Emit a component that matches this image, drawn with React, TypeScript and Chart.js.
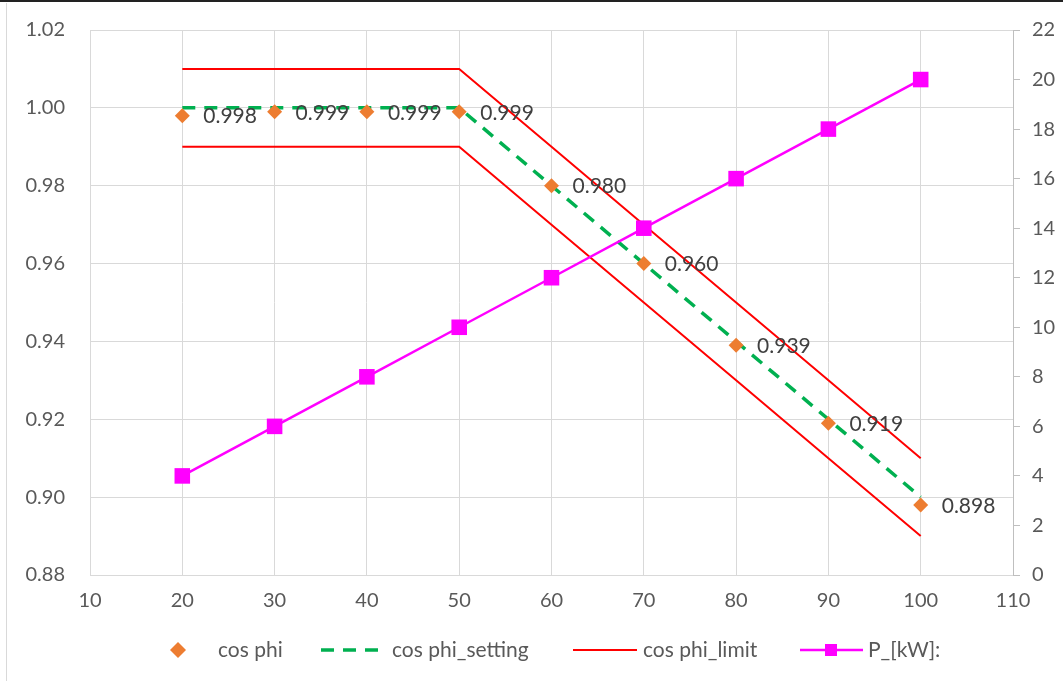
import React, { useEffect, useRef } from "react";
import { Chart, registerables } from "chart.js";

Chart.register(...registerables);

const xValues = [20, 30, 40, 50, 60, 70, 80, 90, 100];
const cosPhi = [0.998, 0.999, 0.999, 0.999, 0.98, 0.96, 0.939, 0.919, 0.898];
const cosPhiSetting = [1.0, 1.0, 1.0, 1.0, 0.98, 0.96, 0.94, 0.92, 0.9];
const cosPhiLimitUpper = [1.01, 1.01, 1.01, 1.01, 0.99, 0.97, 0.95, 0.93, 0.91];
const cosPhiLimitLower = [0.99, 0.99, 0.99, 0.99, 0.97, 0.95, 0.93, 0.91, 0.89];
const powerKW = [4, 6, 8, 10, 12, 14, 16, 18, 20];

const xAxisRange = { min: 10, max: 110, step: 10 };
const leftAxisRange = { min: 0.88, max: 1.02, step: 0.02 };
const rightAxisRange = { min: 0, max: 22, step: 2 };

const legendNames = ["cos phi", "cos phi_setting", "cos phi_limit", "P_[kW]:"];

const FONT = "Lato, 'Open Sans', sans-serif";
const ORANGE = "#ED7D31";
const GREEN = "#00B050";
const RED = "#FF0000";
const MAGENTA = "#FF00FF";
const GRID = "#D9D9D9";
const TEXT = "#595959";

const pts = (ys: number[]) => xValues.map((x, i) => ({ x, y: ys[i] }));

const dataLabelPlugin = {
  id: "dataLabels",
  afterDatasetsDraw(chart: any) {
    const meta = chart.getDatasetMeta(0);
    const ctx = chart.ctx;
    ctx.save();
    ctx.font = `21px ${FONT}`;
    ctx.fillStyle = "#404040";
    ctx.textBaseline = "middle";
    ctx.textAlign = "left";
    meta.data.forEach((el: any, i: number) => {
      ctx.fillText(cosPhi[i].toFixed(3), el.x + 21, el.y + 1);
    });
    ctx.restore();
  },
};

const legendPlugin = {
  id: "customLegend",
  afterDraw(chart: any) {
    const ctx = chart.ctx;
    const y = 650;
    ctx.save();
    ctx.font = `21px ${FONT}`;
    ctx.fillStyle = TEXT;
    ctx.textBaseline = "middle";
    ctx.textAlign = "left";
    // diamond
    ctx.fillStyle = ORANGE;
    ctx.beginPath();
    ctx.moveTo(178, y - 8);
    ctx.lineTo(186, y);
    ctx.lineTo(178, y + 8);
    ctx.lineTo(170, y);
    ctx.closePath();
    ctx.fill();
    ctx.fillStyle = TEXT;
    ctx.fillText(legendNames[0], 218, y);
    // dashed green
    ctx.strokeStyle = GREEN;
    ctx.lineWidth = 3.5;
    ctx.setLineDash([13, 9]);
    ctx.beginPath();
    ctx.moveTo(321, y);
    ctx.lineTo(387, y);
    ctx.stroke();
    ctx.setLineDash([]);
    ctx.fillText(legendNames[1], 392, y);
    // red
    ctx.strokeStyle = RED;
    ctx.lineWidth = 2;
    ctx.beginPath();
    ctx.moveTo(573, y);
    ctx.lineTo(637, y);
    ctx.stroke();
    ctx.fillText(legendNames[2], 643, y);
    // magenta
    ctx.strokeStyle = MAGENTA;
    ctx.lineWidth = 2.5;
    ctx.beginPath();
    ctx.moveTo(800, y);
    ctx.lineTo(863, y);
    ctx.stroke();
    ctx.fillStyle = MAGENTA;
    ctx.fillRect(831 - 6, y - 6, 12, 12);
    ctx.fillStyle = TEXT;
    ctx.fillText(legendNames[3], 868, y);
    ctx.restore();
  },
};

export default function App() {
  const ref = useRef<HTMLCanvasElement | null>(null);
  useEffect(() => {
    document.body.style.margin = "0";
    if (!ref.current) return;
    const chart = new Chart(ref.current, {
      type: "line",
      data: {
        datasets: [
          {
            label: legendNames[0],
            data: pts(cosPhi),
            yAxisID: "y",
            showLine: false,
            pointStyle: "rectRot",
            pointRadius: 7.5,
            pointBackgroundColor: ORANGE,
            pointBorderColor: ORANGE,
            pointBorderWidth: 0,
            borderColor: ORANGE,
            backgroundColor: ORANGE,
            order: 0,
          },
          {
            label: legendNames[1],
            data: pts(cosPhiSetting),
            yAxisID: "y",
            borderColor: GREEN,
            borderWidth: 3.5,
            borderDash: [13, 9],
            pointRadius: 0,
            tension: 0,
            order: 2,
          },
          {
            label: legendNames[2],
            data: pts(cosPhiLimitUpper),
            yAxisID: "y",
            borderColor: RED,
            borderWidth: 2,
            pointRadius: 0,
            order: 3,
          },
          {
            label: legendNames[2] + " (lower)",
            data: pts(cosPhiLimitLower),
            yAxisID: "y",
            borderColor: RED,
            borderWidth: 2,
            pointRadius: 0,
            order: 3,
          },
          {
            label: legendNames[3],
            data: pts(powerKW),
            yAxisID: "y1",
            borderColor: MAGENTA,
            borderWidth: 2.5,
            pointStyle: "rect",
            pointRadius: 11,
            pointBackgroundColor: MAGENTA,
            pointBorderColor: MAGENTA,
            pointBorderWidth: 0,
            order: 1,
          },
        ],
      },
      options: {
        responsive: false,
        animation: false,
        layout: { padding: { top: 30, left: 0, right: 0, bottom: 0 } },
        plugins: {
          legend: { display: false },
          tooltip: { enabled: false },
        },
        scales: {
          x: {
            type: "linear",
            min: xAxisRange.min,
            max: xAxisRange.max,
            ticks: {
              stepSize: xAxisRange.step,
              color: TEXT,
              font: { family: FONT, size: 20 },
              padding: 14,
              maxRotation: 0,
            },
            grid: { color: GRID, drawTicks: false, lineWidth: 1 },
            border: { display: true, color: GRID },
            afterFit(scale: any) {
              scale.height = 106;
              scale.paddingLeft = 0;
              scale.paddingRight = 0;
            },
          },
          y: {
            type: "linear",
            position: "left",
            min: leftAxisRange.min,
            max: leftAxisRange.max,
            ticks: {
              stepSize: leftAxisRange.step,
              color: TEXT,
              font: { family: FONT, size: 20 },
              padding: 25,
              callback: (v: any) => Number(v).toFixed(2),
            },
            grid: { color: GRID, drawTicks: false },
            border: { display: true, color: GRID },
            afterFit(scale: any) {
              scale.width = 90;
              scale.paddingTop = 0;
              scale.paddingBottom = 0;
            },
          },
          y1: {
            type: "linear",
            position: "right",
            min: rightAxisRange.min,
            max: rightAxisRange.max,
            ticks: {
              stepSize: rightAxisRange.step,
              color: TEXT,
              font: { family: FONT, size: 20 },
              padding: 12,
            },
            grid: { color: "#BFBFBF", drawOnChartArea: false, drawTicks: true, tickLength: 7 },
            border: { display: true, color: "#BFBFBF" },
            afterFit(scale: any) {
              scale.width = 50;
              scale.paddingTop = 0;
              scale.paddingBottom = 0;
            },
          },
        },
      },
      plugins: [dataLabelPlugin, legendPlugin],
    } as any);
    return () => chart.destroy();
  }, []);

  return (
    <div style={{ position: "fixed", left: 0, top: 0, width: 1063, height: 681, background: "#fff" }}>
      <div style={{ position: "absolute", left: 0, top: 0, width: 1063, height: 2, background: "#222" }} />
      <div style={{ position: "absolute", left: 6, top: 3, width: 1, height: 678, background: "#D9D9D9" }} />
      <canvas ref={ref} width={1063} height={681} style={{ position: "absolute", left: 0, top: 0 }} />
    </div>
  );
}
